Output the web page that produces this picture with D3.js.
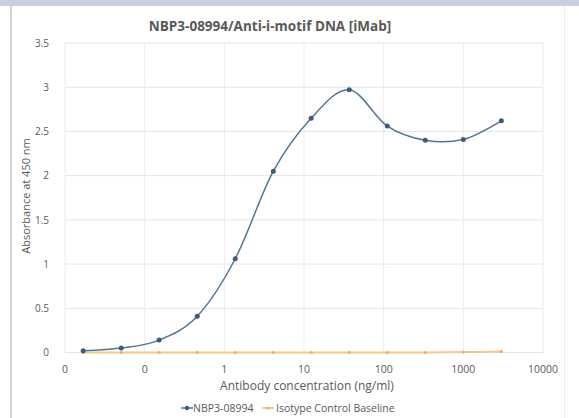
<!DOCTYPE html>
<html><head><meta charset="utf-8">
<script src="https://cdn.jsdelivr.net/npm/d3@7"></script>
<style>body{margin:0;background:#fff;}svg{display:block;font-family:"Open Sans",Lato,sans-serif;}</style>
</head><body>
<svg id="c" width="579" height="418"></svg>
<script>
const concentrations = [0.0169, 0.0508, 0.152, 0.457, 1.37, 4.12, 12.3, 37.0, 111, 333, 1000, 3000];
const nbpValues = [0.02, 0.05, 0.14, 0.41, 1.06, 2.05, 2.65, 2.97, 2.56, 2.40, 2.41, 2.62];
const isotypeValues = [0.0, 0.0, 0.0, 0.0, 0.0, 0.0, 0.0, 0.0, 0.0, 0.0, 0.005, 0.01];
const xTickValues = [0.01, 0.1, 1, 10, 100, 1000, 10000];
const xTickLabels = ["0", "0", "1", "10", "100", "1000", "10000"];
const yTickValues = [0, 0.5, 1, 1.5, 2, 2.5, 3, 3.5];
const seriesNames = ["NBP3-08994", "Isotype Control Baseline"];

const svg = d3.select("#c");
// frame
svg.append("rect").attr("x",0).attr("y",0).attr("width",579).attr("height",6).attr("fill","#c9cfdc");
svg.append("rect").attr("x",10).attr("y",6).attr("width",2).attr("height",412).attr("fill","#d6d6d6");
svg.append("rect").attr("x",564).attr("y",6).attr("width",1).attr("height",412).attr("fill","#ececec");

const x = d3.scaleLog().domain([0.01, 10000]).range([65, 543]);
const y = d3.scaleLinear().domain([0, 3.5]).range([352.5, 43]);

const g = svg.append("g");
g.selectAll("line.hg").data(yTickValues).join("line")
  .attr("x1", x(0.01)).attr("x2", x(10000))
  .attr("y1", d => y(d)).attr("y2", d => y(d))
  .attr("stroke", "#e4e4e4").attr("stroke-width", 1);
g.selectAll("line.vg").data(xTickValues).join("line")
  .attr("x1", d => x(d)).attr("x2", d => x(d))
  .attr("y1", y(3.5)).attr("y2", y(0))
  .attr("stroke", "#ececec").attr("stroke-width", 1);

g.selectAll("text.yl").data(yTickValues).join("text")
  .attr("x", 49).attr("y", d => y(d) + 3.8)
  .attr("text-anchor", "end").attr("font-size", 10).attr("fill", "#595959")
  .text(d => d);
g.selectAll("text.xl").data(xTickValues).join("text")
  .attr("x", d => x(d)).attr("y", 373)
  .attr("text-anchor", "middle").attr("font-size", 10.5).attr("fill", "#595959")
  .text((d, i) => xTickLabels[i]);

svg.append("text").attr("x", 270).attr("y", 31).attr("text-anchor", "middle")
  .attr("font-size", 13.5).attr("font-weight", "bold").attr("fill", "#595959")
  .text("NBP3-08994/Anti-i-motif DNA [iMab]");
svg.append("text").attr("transform", "translate(30,196) rotate(-90)").attr("text-anchor", "middle")
  .attr("font-size", 11).attr("fill", "#595959").text("Absorbance at 450 nm");
svg.append("text").attr("x", 307).attr("y", 390).attr("text-anchor", "middle")
  .attr("font-size", 12).attr("fill", "#595959").text("Antibody concentration (ng/ml)");

const line = d3.line().x(d => x(d[0])).y(d => y(d[1])).curve(d3.curveCardinal.tension(0));
const isoPts = concentrations.map((c, i) => [c, isotypeValues[i]]);
const nbpPts = concentrations.map((c, i) => [c, nbpValues[i]]);

g.append("path").attr("d", line(isoPts)).attr("fill", "none").attr("stroke", "#f4c78f").attr("stroke-width", 2);
g.selectAll("circle.iso").data(isoPts).join("circle")
  .attr("cx", d => x(d[0])).attr("cy", d => y(d[1])).attr("r", 1.6).attr("fill", "#e8b070");

g.append("path").attr("d", line(nbpPts)).attr("fill", "none").attr("stroke", "#557394").attr("stroke-width", 1.5);
g.selectAll("circle.nbp").data(nbpPts).join("circle")
  .attr("cx", d => x(d[0])).attr("cy", d => y(d[1])).attr("r", 2.5).attr("fill", "#3f5b7a");

const lg = svg.append("g").attr("font-size", 10.5).attr("fill", "#595959");
lg.append("line").attr("x1", 181).attr("x2", 193).attr("y1", 408).attr("y2", 408).attr("stroke", "#557394").attr("stroke-width", 1.5);
lg.append("circle").attr("cx", 187).attr("cy", 408).attr("r", 2.2).attr("fill", "#3f5b7a");
lg.append("text").attr("x", 193).attr("y", 412).text(seriesNames[0]);
lg.append("line").attr("x1", 262).attr("x2", 274).attr("y1", 408).attr("y2", 408).attr("stroke", "#f4c78f").attr("stroke-width", 2);
lg.append("circle").attr("cx", 268).attr("cy", 408).attr("r", 1.6).attr("fill", "#e8b070");
lg.append("text").attr("x", 276).attr("y", 412).text(seriesNames[1]);
</script>
</body></html>
